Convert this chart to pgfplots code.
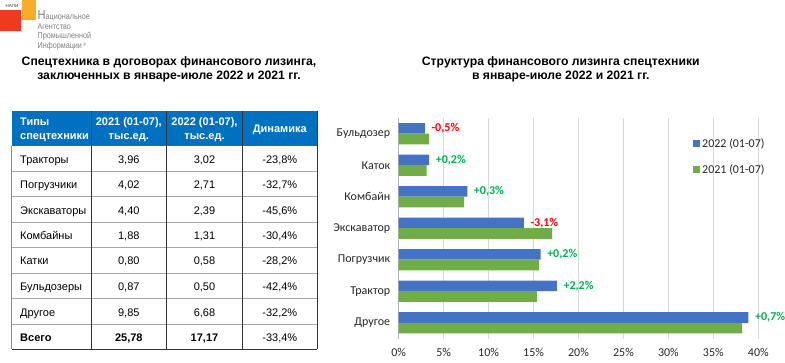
\documentclass[border=0pt]{standalone}
\usepackage{pgfplots}
\pgfplotsset{compat=1.18}
\usepackage{fontspec}
\setmainfont{Liberation Sans}
\newfontfamily\calibri{Carlito}
\definecolor{hdrblue}{HTML}{0070C0}
\definecolor{b22}{HTML}{4472C4}
\definecolor{g21}{HTML}{70AD47}
\definecolor{labred}{HTML}{FF0000}
\definecolor{labgreen}{HTML}{00B050}
\definecolor{gridc}{HTML}{D9D9D9}
\definecolor{logored}{HTML}{EE3A1F}
\definecolor{logoorange}{HTML}{F7AC2A}
\definecolor{logogray}{HTML}{808080}
\protected\def\dr#1{\textcolor{labred}{#1}}
\protected\def\dg#1{\textcolor{labgreen}{#1}}
\newcommand\tfont{\fontsize{11bp}{13bp}\selectfont}
\newcommand\trow[6][]{%
  \node[anchor=base west,inner sep=0,font=\tfont#1] at (20,#2+4.7) {#3};
  \node[anchor=base,inner sep=0,font=\tfont#1] at (128.8,#2+4.7) {#4};
  \node[anchor=base,inner sep=0,font=\tfont#1] at (204.5,#2+4.7) {#5};
  \node[anchor=base,inner sep=0,font=\tfont] at (279.8,#2+4.7) {#6};}
\begin{document}
\begin{tikzpicture}
\useasboundingbox[fill=white] (0,0) rectangle (785bp,363bp);
\begin{scope}[x=1bp,y=-1bp,yshift=363bp]
% logo
\fill[logored] (0,10) rectangle (20.7,30.7);
\fill[logoorange] (22.3,0) rectangle (36,20);
\node[anchor=base west,inner sep=0,font=\fontsize{4.5bp}{5bp}\selectfont,text=black!75] at (5.5,7.5) {НАПИ};
\node[anchor=base west,inner sep=0,text=logogray,xscale=0.85,font=\fontsize{8.5bp}{10bp}\selectfont] at (37.5,19.7) {{\fontsize{13bp}{13bp}\selectfont Н}ациональное};
\node[anchor=base west,inner sep=0,text=logogray,xscale=0.85,font=\fontsize{8.5bp}{10bp}\selectfont] at (37.5,29.3) {Агентство};
\node[anchor=base west,inner sep=0,text=logogray,xscale=0.85,font=\fontsize{8.5bp}{10bp}\selectfont] at (37.5,39) {Промышленной};
\node[anchor=base west,inner sep=0,text=logogray,xscale=0.85,font=\fontsize{8.5bp}{10bp}\selectfont] at (37.5,48.7) {Информации\,\raisebox{2bp}{\fontsize{5bp}{5bp}\selectfont®}};
% titles
\node[anchor=base,inner sep=0,align=center,font=\fontsize{12.2bp}{14.3bp}\selectfont\bfseries] at (169,80) {Спецтехника в договорах финансового лизинга,\\заключенных в январе-июле 2022 и 2021 гг.};
\node[anchor=base,inner sep=0,align=center,font=\fontsize{12.2bp}{14.3bp}\selectfont\bfseries] at (560.8,80) {Структура финансового лизинга спецтехники\\в январе-июле 2022 и 2021 гг.};
% table
\fill[hdrblue] (11.7,110.7) rectangle (317.3,145.7);
\foreach \yy in {171,196.7,222,247.3,273,298.7,324}
  \draw[line width=0.9bp,black!35] (11.7,\yy) -- (317.3,\yy);
\draw[line width=0.9bp,black!45] (11.7,145.7) -- (11.7,349.3);
\foreach \xx in {91,166.7,242.3}
  \draw[line width=0.8bp,black!80] (\xx,110.7) -- (\xx,349.3);
\draw[line width=0.9bp,black!80] (317.3,110.7) -- (317.3,349.3);
\draw[line width=0.9bp,black!80] (11.7,349.3) -- (317.3,349.3);
% header
\node[anchor=base west,inner sep=0,align=left,text=white,font=\tfont\bfseries] at (20,125.7) {Типы};
\node[anchor=base west,inner sep=0,align=left,text=white,font=\tfont\bfseries] at (20,140) {спецтехники};
\node[anchor=base,inner sep=0,text=white,font=\tfont\bfseries] at (128.8,125.7) {2021 (01-07),};
\node[anchor=base,inner sep=0,text=white,font=\tfont\bfseries] at (128.8,140) {тыс.ед.};
\node[anchor=base,inner sep=0,text=white,font=\tfont\bfseries] at (204.5,125.7) {2022 (01-07),};
\node[anchor=base,inner sep=0,text=white,font=\tfont\bfseries] at (204.5,140) {тыс.ед.};
\node[anchor=base,inner sep=0,text=white,font=\tfont\bfseries] at (279.8,132.3) {Динамика};
\trow{158.35}{Тракторы}{3,96}{3,02}{-23,8\%}
\trow{183.85}{Погрузчики}{4,02}{2,71}{-32,7\%}
\trow{209.35}{Экскаваторы}{4,40}{2,39}{-45,6\%}
\trow{234.65}{Комбайны}{1,88}{1,31}{-30,4\%}
\trow{260.15}{Катки}{0,80}{0,58}{-28,2\%}
\trow{285.85}{Бульдозеры}{0,87}{0,50}{-42,4\%}
\trow{311.35}{Другое}{9,85}{6,68}{-32,2\%}
\trow[\bfseries]{336.65}{Всего}{25,78}{17,17}{-33,4\%}
\end{scope}
% chart
\begin{axis}[
  at={(398.7bp,24.5bp)}, anchor=south west,
  scale only axis, width=359.6bp, height=220.5bp,
  xbar, bar width=10.5bp,
  xmin=0, xmax=40, ymin=-0.5, ymax=6.5,
  clip=false,
  axis line style={draw=none},
  major tick length=0pt,
  xtick={0,5,...,40},
  /pgf/number format/assume math mode=true,
  xticklabel={\pgfmathprintnumber{\tick}\%},
  ytick={0,...,6},
  yticklabels={Другое,Трактор,Погрузчик,Экскаватор,Комбайн,Каток,Бульдозер},
  xmajorgrids, grid style={gridc, line width=0.8bp},
  extra x ticks={0}, extra x tick labels={},
  extra x tick style={grid style={black!30,line width=0.8bp}},
  tick label style={font=\calibri\fontsize{12bp}{14bp}\selectfont, text=black!85},
  xticklabel style={yshift=-6bp},
  yticklabel style={xshift=-5bp},
  legend style={draw=none, fill=none, at={(0.8176,0.918)}, anchor=north west,
    font=\calibri\fontsize{12bp}{14bp}\selectfont, text=black!85,
    row sep=12bp, inner sep=0pt},
  legend cell align=left,
  legend image code/.code={\path[#1,draw=none] (0bp,-3.6bp) rectangle (7.3bp,3.6bp);},
]
\addplot[fill=b22, draw=none, bar shift=5.25bp,
  point meta=explicit symbolic, nodes near coords,
  nodes near coords style={anchor=west, inner sep=0pt, xshift=6.5bp,
    font=\calibri\bfseries\fontsize{12bp}{14bp}\selectfont}]
  coordinates {(38.90,0) [\dg{+0,7\%}] (17.59,1) [\dg{+2,2\%}] (15.78,2) [\dg{+0,2\%}]
    (13.92,3) [\dr{-3,1\%}] (7.63,4) [\dg{+0,3\%}] (3.38,5) [\dg{+0,2\%}] (2.91,6) [\dr{-0,5\%}]};
\addplot[fill=g21, draw=none, bar shift=-5.25bp]
  coordinates {(38.21,0) (15.36,1) (15.59,2) (17.07,3) (7.29,4) (3.10,5) (3.37,6)};
\legend{2022 (01-07), 2021 (01-07)}
\end{axis}
\end{tikzpicture}
\end{document}
